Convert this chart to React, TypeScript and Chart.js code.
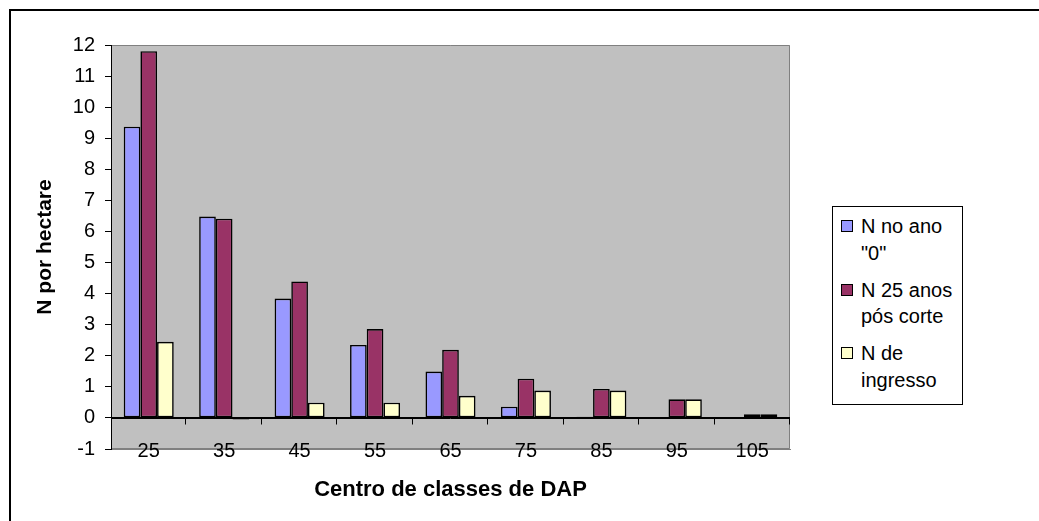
import React, { useEffect, useRef } from "react";
import { Chart, registerables } from "chart.js";

Chart.register(...registerables);

const categories = ["25", "35", "45", "55", "65", "75", "85", "95", "105"];
const nAno0 = [9.37, 6.48, 3.84, 2.35, 1.49, 0.36, 0.04, 0, 0];
const n25Anos = [11.8, 6.41, 4.39, 2.86, 2.19, 1.26, 0.93, 0.6, 0.12];
const nIngresso = [2.45, -0.05, 0.49, 0.49, 0.71, 0.88, 0.88, 0.6, 0.12];
const seriesNames = ['N no ano "0"', "N 25 anos pós corte", "N de ingresso"];
const legendLines = [['N no ano', '"0"'], ['N 25 anos', 'pós corte'], ['N de', 'ingresso']];
const colors = ["#9999FF", "#993366", "#FFFFCC"];
const yMin = -1;
const yMax = 12;

const FONT = "'Liberation Sans', Arial, sans-serif";

const plotBg = {
  id: "plotBg",
  beforeDraw(chart: any) {
    const { ctx, chartArea: a } = chart;
    ctx.save();
    ctx.fillStyle = "#C0C0C0";
    ctx.fillRect(a.left, a.top, a.right - a.left, a.bottom - a.top);
    ctx.strokeStyle = "#808080";
    ctx.lineWidth = 1;
    ctx.beginPath();
    ctx.moveTo(a.left, a.top + 0.5);
    ctx.lineTo(a.right - 0.5, a.top + 0.5);
    ctx.lineTo(a.right - 0.5, a.bottom - 0.5);
    ctx.lineTo(a.left, a.bottom - 0.5);
    ctx.stroke();
    ctx.restore();
  },
  afterDatasetsDraw(chart: any) {
    const { ctx } = chart;
    const xs = chart.scales.x;
    const ys = chart.scales.y;
    const y0 = Math.round(ys.getPixelForValue(0)) + 0.5;
    const n = categories.length;
    ctx.save();
    ctx.strokeStyle = "#000";
    ctx.lineWidth = 1;
    ctx.beginPath();
    ctx.moveTo(xs.left, y0);
    ctx.lineTo(xs.right, y0);
    for (let i = 1; i <= n; i++) {
      const x = Math.round(xs.left + (i * (xs.right - xs.left)) / n) - 0.5;
      ctx.moveTo(x, y0);
      ctx.lineTo(x, y0 + 6);
    }
    ctx.stroke();
    ctx.restore();
  },
  afterDraw(chart: any) {
    const { ctx } = chart;
    const xs = chart.scales.x;
    const ys = chart.scales.y;
    const yLab = ys.getPixelForValue(yMin) + 2;
    ctx.save();
    ctx.fillStyle = "#000";
    ctx.font = `20px ${FONT}`;
    ctx.textAlign = "center";
    ctx.textBaseline = "middle";
    categories.forEach((c, i) => {
      ctx.fillText(c, xs.getPixelForValue(i), yLab);
    });
    ctx.restore();
  },
};

export default function App() {
  const ref = useRef<HTMLCanvasElement>(null);
  useEffect(() => {
    if (!ref.current) return;
    const chart = new Chart(ref.current, {
      type: "bar",
      data: {
        labels: categories,
        datasets: [nAno0, n25Anos, nIngresso].map((d, i) => ({
          label: seriesNames[i],
          data: d,
          backgroundColor: colors[i],
          borderColor: "#000",
          borderWidth: 1.6,
          borderSkipped: false,
          categoryPercentage: 0.663,
          barPercentage: 1,
        })),
      },
      options: {
        animation: false,
        responsive: false,
        maintainAspectRatio: false,
        layout: { padding: { left: 0, top: 45, right: 249, bottom: 0 } },
        plugins: { legend: { display: false }, tooltip: { enabled: false } },
        scales: {
          x: {
            grid: { display: false, drawTicks: false },
            border: { display: true, color: "#808080" },
            ticks: { display: false },
            title: {
              display: true,
              text: "Centro de classes de DAP",
              color: "#000",
              font: { family: FONT, size: 22, weight: "bold" },
              padding: { top: 0, bottom: 18 },
            },
            afterFit: (s: any) => {
              s.height = 72;
            },
          },
          y: {
            min: yMin,
            max: yMax,
            ticks: { stepSize: 1, color: "#000", font: { family: FONT, size: 20 }, padding: 10 },
            grid: {
              drawOnChartArea: true,
              drawTicks: true,
              tickLength: 6,
              color: (c: any) => (c.tick && c.tick.value === 0 ? "#000" : "rgba(0,0,0,0)"),
              tickColor: "#000",
            },
            border: { display: true, color: "#000", width: 1 },
            title: {
              display: true,
              text: "N por hectare",
              color: "#000",
              font: { family: FONT, size: 21, weight: "bold" },
              padding: { top: 33, bottom: 0 },
            },
            afterFit: (s: any) => {
              s.width = 111;
            },
          },
        },
      },
      plugins: [plotBg],
    } as any);
    return () => chart.destroy();
  }, []);

  return (
    <div style={{ position: "fixed", left: 0, top: 0, width: 1039, height: 521, overflow: "hidden", background: "#fff" }}>
      <div style={{ position: "absolute", left: 9, top: 9, width: 1100, height: 600, border: "2px solid #000" }} />
      <canvas ref={ref} width={1039} height={521} style={{ position: "absolute", left: 0, top: 0, width: 1039, height: 521 }} />
      <div
        style={{
          position: "absolute",
          left: 832,
          top: 206,
          width: 129,
          height: 191,
          border: "1px solid #000",
          background: "#fff",
          fontFamily: FONT,
          fontSize: 20,
          lineHeight: "26.5px",
          color: "#000",
          paddingTop: 6,
          boxSizing: "content-box",
        }}
      >
        {legendLines.map((lines, i) => (
          <div key={i} style={{ position: "relative", paddingLeft: 28, marginBottom: 10.5, whiteSpace: "nowrap" }}>
            <span
              style={{
                position: "absolute",
                left: 8,
                top: 7,
                width: 10,
                height: 10,
                border: "1px solid #000",
                background: colors[i],
              }}
            />
            {lines[0]}
            <br />
            {lines[1]}
          </div>
        ))}
      </div>
    </div>
  );
}
